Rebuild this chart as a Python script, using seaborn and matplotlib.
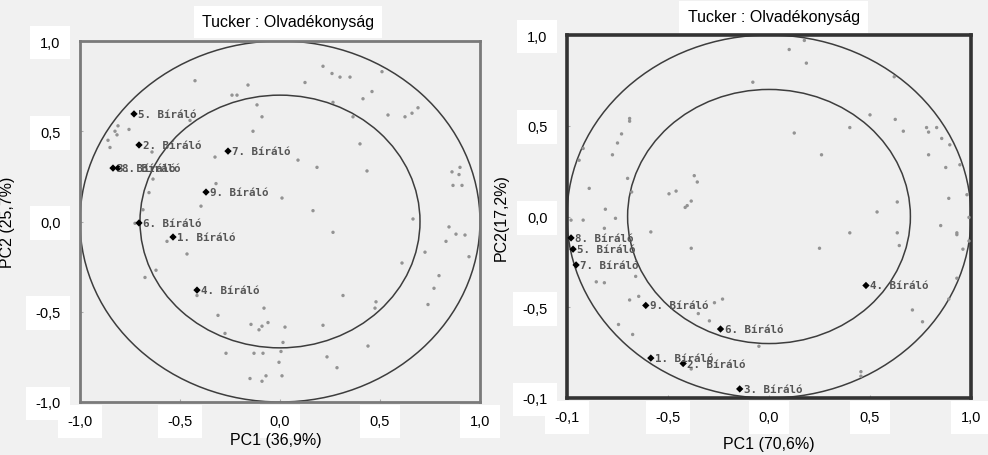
import seaborn as sns
import pandas as pd
import matplotlib.pyplot as plt
from matplotlib.patches import Circle

# ---- left panel data (PC1 36,9% / PC2 25,7%) ----
left_raters = ['1. Bíráló', '2. Bíráló', '3. Bíráló', '4. Bíráló', '5. Bíráló',
               '6. Bíráló', '7. Bíráló', '8. Bíráló', '9. Bíráló']
left_rx = [-0.535, -0.705, -0.835, -0.415, -0.73, -0.705, -0.26, -0.81, -0.37]
left_ry = [-0.086, 0.424, 0.296, -0.38, 0.596, -0.008, 0.39, 0.296, 0.163]

left_dx = [0.215, 0.26, 0.30, 0.35, 0.51, -0.425, -0.16, 0.125, -0.24, -0.215,
           0.46, 0.415, -0.115, 0.265, 0.69, 0.66, 0.625, 0.54, -0.09, 0.365,
           -0.45, -0.81, -0.755, -0.825, -0.815, -0.135, -0.86, -0.85, 0.40, -0.64,
           -0.325, 0.09, 0.185, 0.435, 0.90, 0.86, 0.895, 0.865, 0.91, -0.635,
           -0.32, -0.655, 0.01, -0.395, -0.685, 0.165, 0.665, 0.845, 0.88, 0.265,
           -0.725, -0.565, 0.83, 0.925, 0.725, -0.465, 0.945, 0.61, -0.62, 0.795,
           -0.675, 0.77, 0.315, -0.415, 0.48, 0.74, 0.475, -0.08, -0.31, -0.145,
           -0.09, -0.06, -0.105, 0.025, 0.215, -0.275, 0.015, 0.005, 0.44, -0.27,
           -0.13, -0.085, 0.235, 0.285, -0.005, -0.15, -0.07, -0.09, 0.01]
left_dy = [0.86, 0.82, 0.80, 0.80, 0.83, 0.78, 0.756, 0.77, 0.70, 0.70,
           0.72, 0.68, 0.646, 0.66, 0.63, 0.60, 0.58, 0.59, 0.58, 0.58,
           0.56, 0.53, 0.51, 0.50, 0.48, 0.50, 0.45, 0.41, 0.43, 0.385,
           0.357, 0.34, 0.30, 0.28, 0.30, 0.275, 0.26, 0.20, 0.20, 0.235,
           0.21, 0.16, 0.13, 0.085, 0.065, 0.06, 0.014, -0.03, -0.07, -0.06,
           -0.01, -0.11, -0.11, -0.075, -0.17, -0.18, -0.195, -0.23, -0.27, -0.30,
           -0.31, -0.37, -0.41, -0.41, -0.445, -0.46, -0.48, -0.48, -0.52, -0.57,
           -0.58, -0.56, -0.60, -0.585, -0.575, -0.62, -0.67, -0.72, -0.69, -0.73,
           -0.73, -0.73, -0.75, -0.81, -0.78, -0.87, -0.855, -0.885, -0.855]

# ---- right panel data (PC1 70,6% / PC2 17,2%) ----
right_raters = ['1. Bíráló', '2. Bíráló', '3. Bíráló', '4. Bíráló', '5. Bíráló',
                '6. Bíráló', '7. Bíráló', '8. Bíráló', '9. Bíráló']
right_rx = [-0.585, -0.425, -0.145, 0.48, -0.97, -0.24, -0.955, -0.98, -0.61]
right_ry = [-0.78, -0.81, -0.95, -0.38, -0.18, -0.62, -0.267, -0.118, -0.49]

right_dx = [0.175, 0.10, 0.185, -0.08, 0.62, -0.69, -0.69, -0.73, -0.75, -0.775,
            -0.92, -0.94, -0.70, -0.89, -0.68, -0.37, -0.355, -0.46, -0.495, -0.385,
            -0.405, -0.415, -0.81, -0.76, -0.92, -0.98, -0.815, -0.585, 0.125, 0.26,
            0.40, 0.50, 0.625, 0.665, 0.78, 0.79, 0.83, 0.855, 0.895, 0.79,
            0.875, 0.945, 0.98, 0.89, 0.635, 0.535, 0.99, 0.85, 0.93, 0.635,
            0.40, 0.93, 0.96, 0.99, 0.645, 0.25, -0.385, 0.93, 0.89, 0.71,
            0.76, -0.855, -0.815, -0.66, -0.645, -0.69, -0.745, -0.675, -0.35, -0.295,
            -0.27, -0.23, -0.05, 0.455, 0.455, -0.385]
right_dy = [0.97, 0.92, 0.845, 0.74, 0.77, 0.54, 0.525, 0.455, 0.405, 0.34,
            0.375, 0.31, 0.21, 0.155, 0.135, 0.225, 0.19, 0.14, 0.125, 0.085,
            0.06, 0.05, 0.04, -0.01, -0.02, -0.02, -0.065, -0.085, 0.46, 0.34,
            0.49, 0.56, 0.535, 0.47, 0.49, 0.465, 0.49, 0.43, 0.395, 0.34,
            0.27, 0.285, 0.12, 0.10, 0.08, 0.025, -0.005, -0.05, -0.09, -0.09,
            -0.09, -0.10, -0.18, -0.135, -0.16, -0.175, -0.175, -0.34, -0.455, -0.515,
            -0.58, -0.36, -0.365, -0.33, -0.44, -0.46, -0.595, -0.65, -0.535, -0.575,
            -0.475, -0.455, -0.715, -0.855, -0.88, -0.84]

radii = [1.0, 0.7]
tick_vals = [-1.0, -0.5, 0.0, 0.5, 1.0]
left_xticklabels = ['-1,0', '-0,5', '0,0', '0,5', '1,0']
left_yticklabels = ['-1,0', '-0,5', '0,0', '0,5', '1,0']
right_xticklabels = ['-0,1', '-0,5', '0,0', '0,5', '1,0']
right_yticklabels = ['-0,1', '-0,5', '0,0', '0,5', '1,0']

title = 'Tucker : Olvadékonyság'

plt.rcParams['font.family'] = ['Liberation Sans', 'DejaVu Sans']

fig = plt.figure(figsize=(9.88, 4.56), dpi=100, facecolor='#f1f1f1')
ax1 = fig.add_axes([80/988, 1-403/456, 400/988, 361/456])
ax2 = fig.add_axes([567/988, 1-399/456, 404/988, 363/456])

panels = [
    (ax1, left_raters, left_rx, left_ry, left_dx, left_dy, left_xticklabels, left_yticklabels,
     'PC1 (36,9%)', 'PC2 (25,7%)', '#7a7a7a', 2.0, (-0.1625, 0.5), (0.49, -0.083), (0.52, 1.053)),
    (ax2, right_raters, right_rx, right_ry, right_dx, right_dy, right_xticklabels, right_yticklabels,
     'PC1 (70,6%)', 'PC2(17,2%)', '#333333', 2.6, (-0.1436, 0.5), (0.5, -0.105), (0.512, 1.05)),
]

for (ax, raters, rx, ry, dx, dy, xtl, ytl, xlab, ylab, spc, splw,
     ylc, xlc, tlc) in panels:
    ax.set_facecolor('#efefef')
    df_dots = pd.DataFrame({'x': dx, 'y': dy})
    df_r = pd.DataFrame({'x': rx, 'y': ry, 'name': raters})

    for r in radii:
        ax.add_patch(Circle((0, 0), r, fill=False, edgecolor='#3d3d3d', lw=1.1, zorder=2))

    sns.scatterplot(data=df_dots, x='x', y='y', ax=ax, color='#939393', s=6,
                    edgecolor='none', zorder=3, legend=False)
    sns.scatterplot(data=df_r, x='x', y='y', ax=ax, color='black', marker='D', s=14,
                    edgecolor='none', zorder=4, legend=False)
    for _, row in df_r.iterrows():
        ax.annotate(row['name'], (row['x'], row['y']), xytext=(3, 0), textcoords='offset points',
                    va='center', ha='left', fontsize=7.8, family='DejaVu Sans Mono',
                    fontweight='bold', color='#555555', zorder=5)

    ax.set_xlim(-1, 1)
    ax.set_ylim(-1, 1)
    ax.set_xticks(tick_vals)
    ax.set_yticks(tick_vals)
    ax.set_xticklabels(xtl)
    ax.set_yticklabels(ytl)
    ax.tick_params(axis='both', direction='in', length=2, color='#aaaaaa', labelsize=10.5)
    ax.tick_params(axis='y', pad=14)
    ax.tick_params(axis='x', pad=9)
    for lbl in ax.get_xticklabels() + ax.get_yticklabels():
        lbl.set_bbox(dict(facecolor='white', edgecolor='none', pad=7))

    for sp in ax.spines.values():
        sp.set_color(spc)
        sp.set_linewidth(splw)

    ax.set_xlabel(xlab, fontsize=11.5)
    ax.set_ylabel(ylab, fontsize=11.5)
    ax.yaxis.set_label_coords(*ylc)
    ax.xaxis.set_label_coords(*xlc)
    ax.text(tlc[0], tlc[1], title, transform=ax.transAxes, ha='center', va='center',
            fontsize=11.5, bbox=dict(facecolor='white', edgecolor='none', pad=6))

fig.savefig('out.png', dpi=100, facecolor=fig.get_facecolor())
